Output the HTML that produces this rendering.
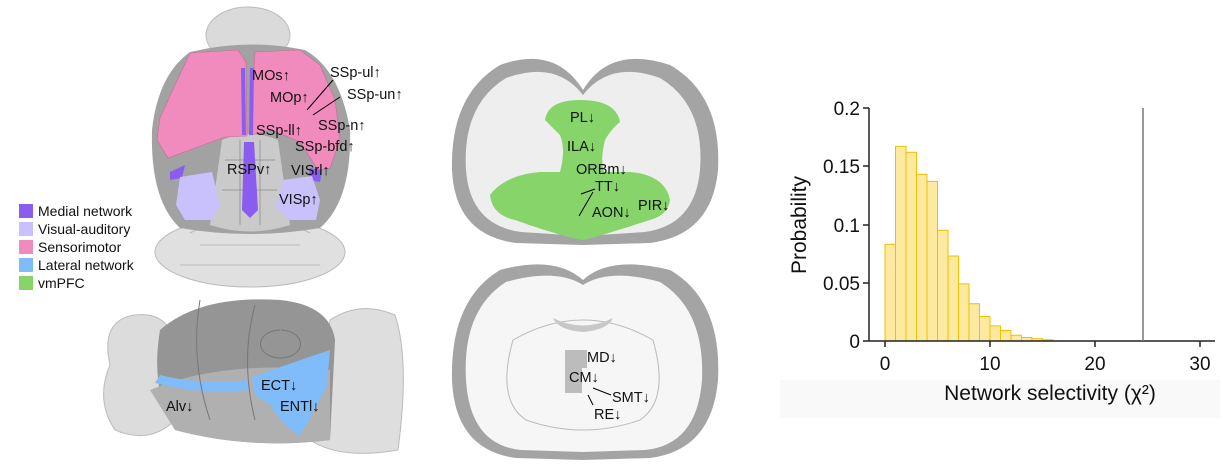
<!DOCTYPE html>
<html><head><meta charset="utf-8"><style>
body{margin:0;background:#fff;width:1223px;height:469px;overflow:hidden}
svg{position:absolute;left:0;top:0}
text{font-family:"Liberation Sans",Arial,sans-serif;fill:#111}
</style></head><body>
<svg width="1223" height="469" viewBox="0 0 1223 469" xmlns="http://www.w3.org/2000/svg">
<!-- ===== Dorsal brain ===== -->
<ellipse cx="248" cy="35" rx="42" ry="28" fill="#dadada" stroke="#bbb"/>
<ellipse cx="250" cy="252" rx="95" ry="35" fill="#e0e0e0" stroke="#bbb"/>
<path d="M250,228 q-30,-10 -60,5 M250,228 q30,-10 60,5 M200,245 h100 M180,265 h140" stroke="#bbb" fill="none"/>
<path d="M190,52 Q248,38 305,50 Q340,70 350,130 Q352,200 320,228 Q250,240 180,228 Q150,200 152,130 Q158,75 190,52Z" fill="#a2a2a2"/>
<path d="M222,140 Q250,128 278,140 L290,225 Q250,238 210,225Z" fill="#cacaca"/>
<path d="M240,140 L240,225 M260,140 L260,225 M225,160 h50 M222,190 h55" stroke="#999" fill="none"/>
<path d="M190,53 L238,50 L246,62 L247,136 L225,137 L195,148 L168,158 L157,140 L160,118 L175,85Z" fill="#f28bbd" stroke="#c46d96" stroke-width="0.6"/>
<path d="M255,52 L300,50 L320,65 L335,100 L340,140 L330,168 L318,170 L300,142 L272,130 L250,135Z" fill="#f28bbd" stroke="#c46d96" stroke-width="0.6"/>
<path d="M241,68 L245,68 L246,135 L242,135Z M250,68 L254,68 L253,135 L249,135Z" fill="#8a5cf0"/>
<path d="M244,142 L254,142 L258,210 L250,218 L242,210Z" fill="#8a5cf0"/>
<path d="M170,172 L185,165 L182,178 L170,180Z M310,168 L322,170 L320,182 L308,180Z" fill="#8a5cf0"/>
<path d="M180,177 L212,172 L220,205 L212,220 L185,220 L176,205Z" fill="#c9c1fb"/>
<path d="M283,180 L312,176 L320,200 L316,220 L290,220 L276,208Z" fill="#c9c1fb"/>
<g font-size="14.5">
<text x="252" y="80">MOs↑</text>
<text x="330" y="77">SSp-ul↑</text>
<text x="270" y="102">MOp↑</text>
<text x="347" y="99">SSp-un↑</text>
<text x="318" y="130">SSp-n↑</text>
<text x="256" y="135">SSp-ll↑</text>
<text x="295" y="151">SSp-bfd↑</text>
<text x="227" y="174">RSPv↑</text>
<text x="291" y="175">VISrl↑</text>
<text x="279" y="204">VISp↑</text>
</g>
<path d="M333,80 L307,110 M340,97 L313,115" stroke="#000" stroke-width="1"/>
<!-- legend -->
<rect x="19" y="204" width="14" height="14" fill="#8a5cf0"/>
<rect x="19" y="222" width="14" height="14" fill="#c9c1fb"/>
<rect x="19" y="240" width="14" height="14" fill="#f28bbd"/>
<rect x="19" y="258" width="14" height="14" fill="#80bcfa"/>
<rect x="19" y="276" width="14" height="14" fill="#86d46a"/>
<g font-size="14">
<text x="38" y="216">Medial network</text>
<text x="38" y="234">Visual-auditory</text>
<text x="38" y="252">Sensorimotor</text>
<text x="38" y="270">Lateral network</text>
<text x="38" y="288">vmPFC</text>
</g>
<!-- ===== Sagittal brain ===== -->
<path d="M110,365 Q100,320 135,315 Q160,312 170,330 L175,420 Q150,445 115,430 Q95,400 110,365Z" fill="#dcdcdc" stroke="#bbb"/>
<path d="M330,320 Q360,300 395,315 Q410,360 398,450 Q340,460 310,440Z" fill="#dedede" stroke="#bbb"/>
<path d="M160,330 Q200,295 280,300 Q330,305 335,340 L330,440 Q250,450 175,430 Q150,390 160,330Z" fill="#959595"/>
<path d="M150,390 Q220,360 330,370 L330,440 Q250,450 175,430Z" fill="#b0b0b0"/>
<path d="M155,383 Q200,395 250,390 L250,380 Q200,385 160,375Z" fill="#80bcfa"/>
<path d="M252,377 Q300,360 330,350 L327,385 Q310,420 300,435 Q285,428 270,405 L255,395Z" fill="#80bcfa"/>
<path d="M200,300 Q190,360 210,420 M255,305 Q240,360 255,420 M280,330 a20,14 0 1 0 1,0" stroke="#777" fill="none"/>
<g font-size="14.5">
<text x="166" y="411">Alv↓</text>
<text x="261" y="390">ECT↓</text>
<text x="280" y="411">ENTl↓</text>
</g>
<!-- ===== Coronal top ===== -->
<path d="M583,90 Q610,45 670,65 Q722,95 718,170 Q712,235 650,243 L583,245 L516,243 Q455,235 452,170 Q450,95 500,65 Q555,45 583,90Z" fill="#a4a4a4"/>
<path d="M583,95 Q610,60 660,78 Q705,105 700,170 Q695,225 645,232 L583,236 L521,232 Q470,225 466,170 Q462,105 506,78 Q556,60 583,95Z" fill="#eeeeee"/>
<path d="M545,120 Q548,100 580,100 Q616,100 620,122 Q612,128 605,140 Q600,160 604,172 L560,172 Q566,150 560,135 Q552,127 545,120Z" fill="#86d46a"/>
<path d="M490,195 Q505,175 540,172 L630,172 Q665,175 670,200 Q668,215 650,220 Q600,236 583,240 Q560,236 515,220 Q492,215 490,195Z" fill="#86d46a"/>
<g font-size="14.5">
<text x="570" y="122">PL↓</text>
<text x="567" y="151">ILA↓</text>
<text x="576" y="174">ORBm↓</text>
<text x="595" y="191">TT↓</text>
<text x="592" y="217">AON↓</text>
<text x="638" y="210">PIR↓</text>
</g>
<path d="M581,194 L595,189 M579,216 L593,192" stroke="#000"/>
<!-- ===== Coronal bottom ===== -->
<path d="M583,280 Q610,255 670,270 Q722,300 718,380 Q712,450 650,458 L583,460 L516,458 Q455,450 452,380 Q450,300 500,270 Q555,255 583,280Z" fill="#a4a4a4"/>
<path d="M583,285 Q610,268 660,282 Q705,310 702,380 Q697,445 645,450 L583,452 L521,450 Q470,445 466,380 Q462,310 506,282 Q556,268 583,285Z" fill="#f6f6f6"/>
<path d="M513,340 Q583,300 653,340 Q670,400 640,420 Q583,440 526,420 Q496,400 513,340Z" fill="none" stroke="#bbb"/>
<path d="M553,318 q30,15 60,0 q-5,12 -30,14 q-25,-2 -30,-14z" fill="#c8c8c8"/>
<path d="M565,350 h22 v18 h-5 v25 h-17z" fill="#bcbcbc"/>
<g font-size="14.5">
<text x="587" y="362">MD↓</text>
<text x="569" y="382">CM↓</text>
<text x="612" y="402">SMT↓</text>
<text x="594" y="419">RE↓</text>
</g>
<path d="M593,388 L611,395 M588,395 L593,405" stroke="#000"/>
<!-- ===== Histogram ===== -->
<rect x="780" y="380" width="440" height="38" fill="#f9f9f9"/>
<g fill="#fde9a0" stroke="#f0c000" stroke-width="1">
<rect x="885" y="244.3" width="10.5" height="96.7"/>
<rect x="895.5" y="146.4" width="10.5" height="194.6"/>
<rect x="906" y="152.3" width="10.5" height="188.7"/>
<rect x="916.5" y="174.4" width="10.5" height="166.6"/>
<rect x="927" y="181.4" width="10.5" height="159.6"/>
<rect x="937.5" y="230.3" width="10.5" height="110.7"/>
<rect x="948" y="256" width="10.5" height="85"/>
<rect x="958.5" y="283.9" width="10.5" height="57.1"/>
<rect x="969" y="303.7" width="10.5" height="37.3"/>
<rect x="979.5" y="316.5" width="10.5" height="24.5"/>
<rect x="990" y="325.9" width="10.5" height="15.1"/>
<rect x="1000.5" y="330.5" width="10.5" height="10.5"/>
<rect x="1011" y="335.2" width="10.5" height="5.8"/>
<rect x="1021.5" y="337.5" width="10.5" height="3.5"/>
<rect x="1032" y="338.7" width="10.5" height="2.3"/>
<rect x="1042.5" y="339.8" width="10.5" height="1.2"/>
</g>
<path d="M869,108 V341 M869,341 H1215 M863,108 H869 M863,166 H869 M863,225 H869 M863,283 H869 M863,341 H869 M885,341 V347 M990,341 V347 M1095,341 V347 M1200,341 V347" stroke="#222" stroke-width="1.5" fill="none"/>
<path d="M1143,108 V341" stroke="#777" stroke-width="1.5"/>
<g font-size="19" text-anchor="end">
<text x="860" y="115">0.2</text>
<text x="860" y="173">0.15</text>
<text x="860" y="232">0.1</text>
<text x="860" y="290">0.05</text>
<text x="860" y="348">0</text>
</g>
<g font-size="19" text-anchor="middle">
<text x="885" y="370">0</text>
<text x="990" y="370">10</text>
<text x="1095" y="370">20</text>
<text x="1200" y="370">30</text>
<text x="1050" y="400" font-size="21">Network selectivity (χ²)</text>
<text transform="translate(806,225) rotate(-90)" font-size="21">Probability</text>
</g>
</svg>
</body></html>
